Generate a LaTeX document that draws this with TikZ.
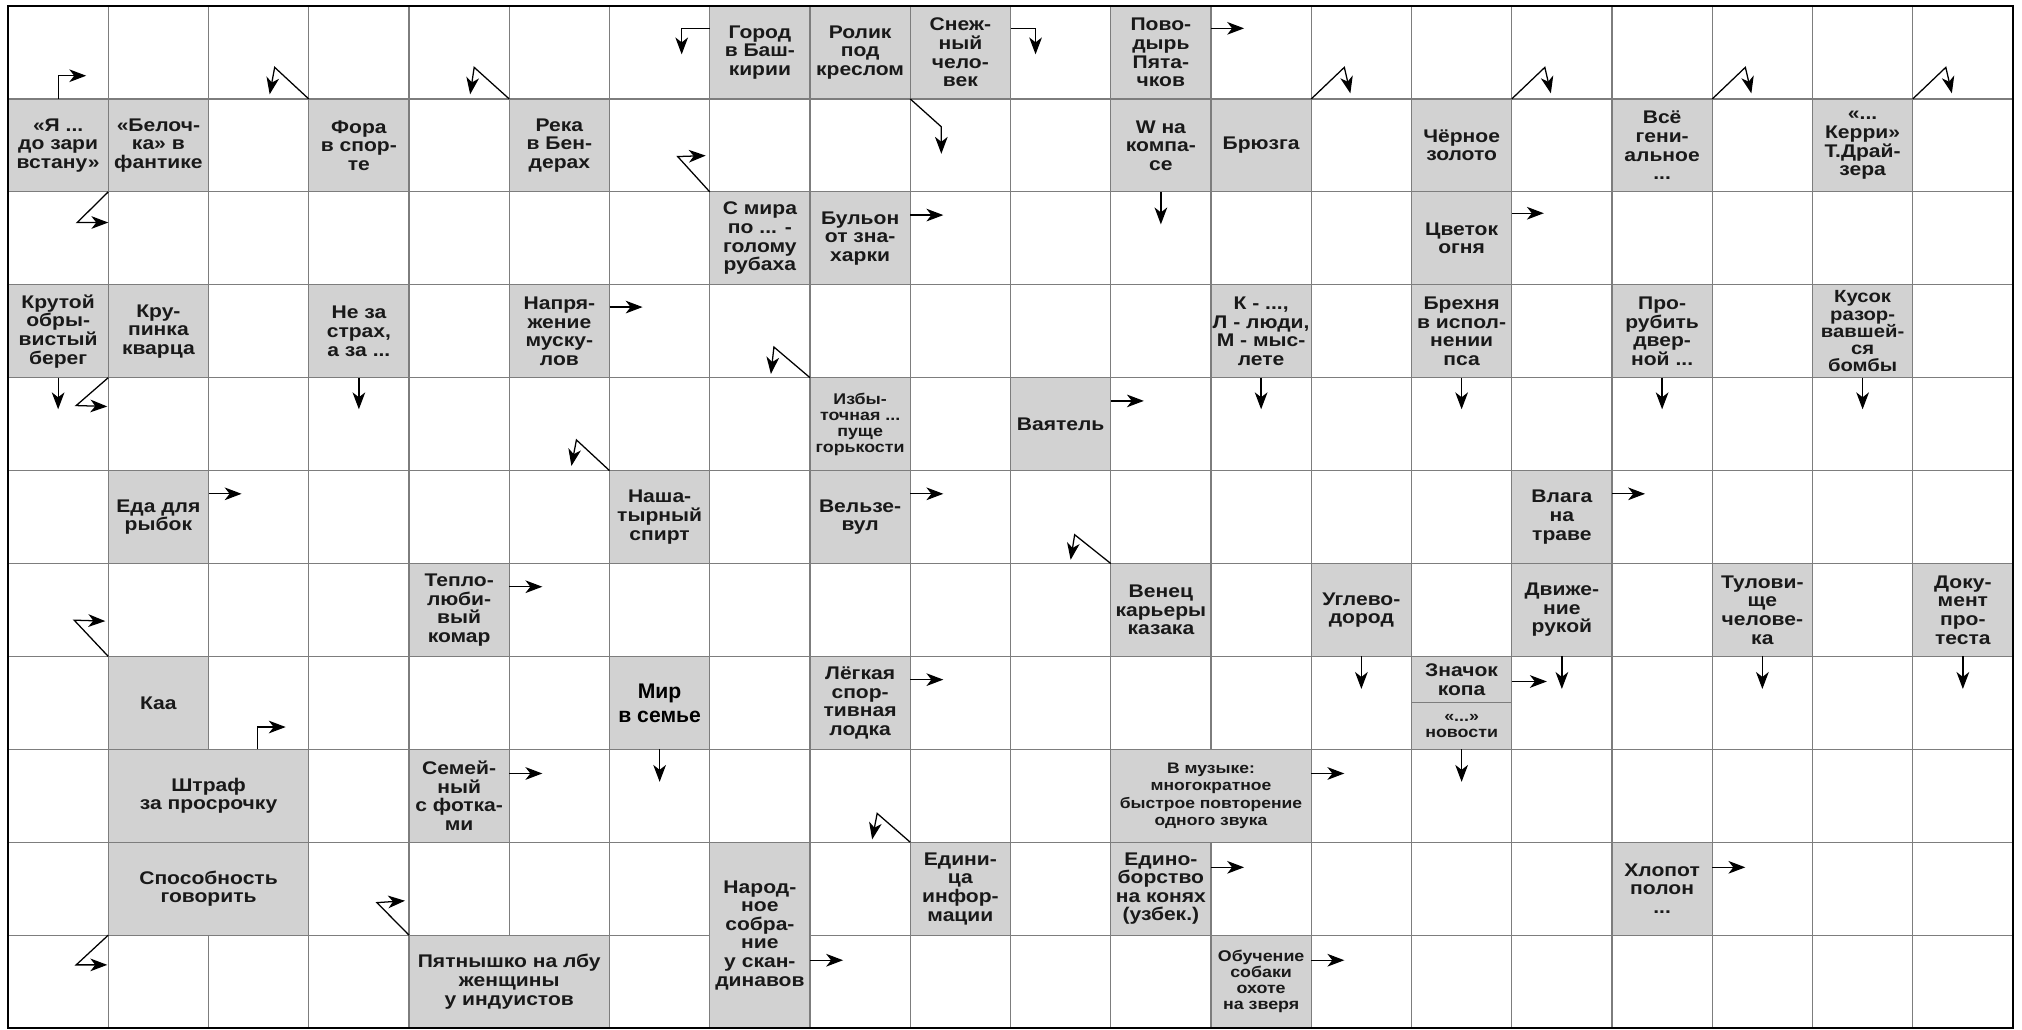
\documentclass[tikz,border=0pt]{standalone}
\usepackage{fontspec}
\setmainfont{Liberation Sans}
\newfontfamily\cluefont[FakeStretch=1.15]{Liberation Sans}
\usetikzlibrary{arrows.meta}

\definecolor{cluegray}{RGB}{210,210,210}
\definecolor{linegray}{RGB}{125,125,125}

\tikzset{
  clue/.style={fill=cluegray, minimum width=2.5cm, minimum height=2.317cm,
    inner sep=0pt, outer sep=0pt, align=center, text=black!90,
    font=\cluefont\bfseries\fontsize{13}{13.2}\selectfont},
  wideclue/.style={clue, minimum width=5cm},
  tallclue/.style={clue, minimum height=4.634cm},
  halfclue/.style={clue, minimum height=1.1585cm},
  smalltext/.style={font=\cluefont\bfseries\fontsize{11}{11.3}\selectfont},
  gridline/.style={draw=linegray, line width=0.8pt},
  pointer/.style={-{Stealth[length=12pt,width=9pt,inset=3.5pt]}, line width=0.9pt},
}

\begin{document}
\begin{tikzpicture}[x=2.5cm, y=-2.317cm]
    \useasboundingbox (-0.08,-0.065) rectangle (20.09,11.02);

    \node[clue] (gorod) at (7.5,0.5) {Город\\в Баш-\\кирии};
    \node[clue] (rolik) at (8.5,0.5) {Ролик\\под\\креслом};
    \node[clue] (snezh) at (9.5,0.5) {Снеж-\\ный\\чело-\\век};
    \node[clue] (povod) at (11.5,0.5) {Пово-\\дырь\\Пята-\\чков};

    \node[clue] (ya) at (0.5,1.5) {«Я ...\\до зари\\встану»};
    \node[clue] (belochka) at (1.5,1.5) {«Белоч-\\ка» в\\фантике};
    \node[clue] (fora) at (3.5,1.5) {Фора\\в спор-\\те};
    \node[clue] (reka) at (5.5,1.5) {Река\\в Бен-\\дерах};
    \node[clue] (kompas) at (11.5,1.5) {W на\\компа-\\се};
    \node[clue] (bruzga) at (12.5,1.5) {Брюзга};
    \node[clue] (neft) at (14.5,1.5) {Чёрное\\золото};
    \node[clue] (genial) at (16.5,1.5) {Всё\\гени-\\альное\\...};
    \node[clue] (kerri) at (18.5,1.5) {«...\\Керри»\\Т.Драй-\\зера};

    \node[clue] (smira) at (7.5,2.5) {С мира\\по ... -\\голому\\рубаха};
    \node[clue] (bulon) at (8.5,2.5) {Бульон\\от зна-\\харки};
    \node[clue] (cvetok) at (14.5,2.5) {Цветок\\огня};

    \node[clue] (bereg) at (0.5,3.5) {Крутой\\обры-\\вистый\\берег};
    \node[clue] (krup) at (1.5,3.5) {Кру-\\пинка\\кварца};
    \node[clue] (strah) at (3.5,3.5) {Не за\\страх,\\а за ...};
    \node[clue] (naprj) at (5.5,3.5) {Напря-\\жение\\муску-\\лов};
    \node[clue] (klm) at (12.5,3.5) {К - ...,\\Л - люди,\\М - мыс-\\лете};
    \node[clue] (brehnya) at (14.5,3.5) {Брехня\\в испол-\\нении\\пса};
    \node[clue] (prorub) at (16.5,3.5) {Про-\\рубить\\двер-\\ной ...};
    \node[clue, font=\cluefont\bfseries\fontsize{12.5}{12.2}\selectfont] (kusok) at (18.5,3.5) {Кусок\\разор-\\вавшей-\\ся\\бомбы};

    \node[clue, smalltext] (izbyt) at (8.5,4.5) {Избы-\\точная ...\\пуще\\горькости};
    \node[clue] (vayatel) at (10.5,4.5) {Ваятель};

    \node[clue] (eda) at (1.5,5.5) {Еда для\\рыбок};
    \node[clue] (nashat) at (6.5,5.5) {Наша-\\тырный\\спирт};
    \node[clue] (velz) at (8.5,5.5) {Вельзе-\\вул};
    \node[clue] (vlaga) at (15.5,5.5) {Влага\\на\\траве};

    \node[clue] (komar) at (4.5,6.5) {Тепло-\\люби-\\вый\\комар};
    \node[clue] (venec) at (11.5,6.5) {Венец\\карьеры\\казака};
    \node[clue] (uglev) at (13.5,6.5) {Углево-\\дород};
    \node[clue] (dvizh) at (15.5,6.5) {Движе-\\ние\\рукой};
    \node[clue] (tulov) at (17.5,6.5) {Тулови-\\ще\\челове-\\ка};
    \node[clue] (dokum) at (19.5,6.5) {Доку-\\мент\\про-\\теста};

    \node[clue] (kaa) at (1.5,7.5) {Каа};
    \node[clue, text=black, font=\bfseries\fontsize{15}{17}\selectfont] (mir) at (6.5,7.5) {Мир\\в семье};
    \node[clue] (lodka) at (8.5,7.5) {Лёгкая\\спор-\\тивная\\лодка};
    \node[halfclue] (znachok) at (14.5,7.25) {Значок\\копа};
    \node[halfclue, smalltext] (novosti) at (14.5,7.75) {«...»\\новости};

    \node[wideclue] (shtraf) at (2,8.5) {Штраф\\за просрочку};
    \node[clue] (semein) at (4.5,8.5) {Семей-\\ный\\с фотка-\\ми};
    \node[wideclue, font=\cluefont\bfseries\fontsize{10.8}{12.5}\selectfont] (muzyka) at (12,8.5) {В музыке:\\многократное\\быстрое повторение\\одного звука};

    \node[wideclue] (sposob) at (2,9.5) {Способность\\говорить};
    \node[tallclue] (narod) at (7.5,10) {Народ-\\ное\\собра-\\ние\\у скан-\\динавов};
    \node[clue] (edinica) at (9.5,9.5) {Едини-\\ца\\инфор-\\мации};
    \node[clue] (edinob) at (11.5,9.5) {Едино-\\борство\\на конях\\(узбек.)};
    \node[clue] (hlopot) at (16.5,9.5) {Хлопот\\полон\\...};

    \node[wideclue] (pyatno) at (5,10.5) {Пятнышко на лбу\\женщины\\у индуистов};
    \node[clue, smalltext] (obuch) at (12.5,10.5) {Обучение\\собаки\\охоте\\на зверя};

    \foreach \x in {1,3,4,6,7,8,9,10,11,13,14,15,16,17,18,19}
        \draw[gridline] (\x,0) -- (\x,11);
    \draw[gridline] (2,0) -- (2,8) (2,10) -- (2,11);
    \draw[gridline] (5,0) -- (5,10);
    \draw[gridline] (12,0) -- (12,8) (12,9) -- (12,11);
    \foreach \y in {1,...,9}
        \draw[gridline] (0,\y) -- (20,\y);
    \draw[gridline] (0,10) -- (7,10) (8,10) -- (20,10);
    \draw[gridline] (znachok.south west) -- (znachok.south east);
    \draw[line width=2pt] (0,0) rectangle (20,11);

    \coordinate (povod-t) at (12.33,0.24);
    \coordinate (bulon-t) at (9.33,2.25);
    \coordinate (cvetok-t) at (15.32,2.23);
    \coordinate (naprj-t) at (6.33,3.24);
    \coordinate (vayatel-t) at (11.33,4.25);
    \coordinate (eda-t) at (2.33,5.25);
    \coordinate (velz-t) at (9.33,5.25);
    \coordinate (vlaga-t) at (16.33,5.25);
    \coordinate (komar-t) at (5.33,6.25);
    \coordinate (lodka-t) at (9.33,7.25);
    \coordinate (znachok-t) at (15.35,7.27);
    \coordinate (semein-t) at (5.33,8.26);
    \coordinate (muzyka-t) at (13.33,8.26);
    \coordinate (edinob-t) at (12.33,9.27);
    \coordinate (hlopot-t) at (17.33,9.27);
    \coordinate (narod-t) at (8.33,10.27);
    \coordinate (obuch-t) at (13.33,10.27);
    \foreach \n in {povod,bulon,cvetok,naprj,vayatel,eda,velz,vlaga,komar,lodka,znachok,semein,muzyka,edinob,hlopot,narod,obuch}
        \draw[pointer] (\n.east |- \n-t) -- (\n-t);

    \coordinate (kompas-t) at (11.5,2.35);
    \coordinate (bereg-t) at (0.5,4.34);
    \coordinate (strah-t) at (3.5,4.34);
    \coordinate (klm-t) at (12.5,4.34);
    \coordinate (brehnya-t) at (14.5,4.34);
    \coordinate (prorub-t) at (16.5,4.34);
    \coordinate (kusok-t) at (18.5,4.34);
    \coordinate (uglev-t) at (13.5,7.35);
    \coordinate (dvizh-t) at (15.5,7.35);
    \coordinate (tulov-t) at (17.5,7.35);
    \coordinate (dokum-t) at (19.5,7.35);
    \coordinate (mir-t) at (6.5,8.35);
    \coordinate (novosti-t) at (14.5,8.35);
    \foreach \n in {kompas,bereg,strah,klm,brehnya,prorub,kusok,uglev,dvizh,tulov,dokum,mir,novosti}
        \draw[pointer] (\n.south) -- (\n-t);

    \coordinate (ya-t) at (0.78,0.75);
    \draw[pointer] (ya.north) |- (ya-t);
    \coordinate (shtraf-k) at (2.49,7.76);
    \coordinate (shtraf-t) at (2.77,7.76);
    \draw[pointer] (shtraf.north -| shtraf-k) |- (shtraf-t);
    \coordinate (gorod-k) at (6.72,0.24);
    \coordinate (gorod-t) at (6.72,0.52);
    \draw[pointer] (gorod.west |- gorod-k) -| (gorod-t);
    \coordinate (snezh-k) at (10.25,0.24);
    \coordinate (snezh-t) at (10.25,0.52);
    \draw[pointer] (snezh.east |- snezh-k) -| (snezh-t);
    \coordinate (rolik-k) at (9.31,1.3);
    \coordinate (rolik-t) at (9.31,1.59);
    \draw[pointer] (rolik.south east) -- (rolik-k) -- (rolik-t);

    \coordinate (fora-k) at (2.66,0.66);
    \coordinate (fora-t) at (2.61,0.95);
    \coordinate (reka-k) at (4.65,0.66);
    \coordinate (reka-t) at (4.61,0.95);
    \coordinate (izbyt-k) at (7.64,3.67);
    \coordinate (izbyt-t) at (7.61,3.96);
    \coordinate (nashat-k) at (5.67,4.67);
    \coordinate (nashat-t) at (5.62,4.95);
    \coordinate (venec-k) at (10.64,5.69);
    \coordinate (venec-t) at (10.6,5.96);
    \coordinate (edinica-k) at (8.67,8.69);
    \coordinate (edinica-t) at (8.62,8.97);
    \coordinate (smira-k) at (6.68,1.62);
    \coordinate (smira-t) at (6.96,1.61);
    \coordinate (kaa-k) at (0.66,6.61);
    \coordinate (kaa-t) at (0.97,6.62);
    \coordinate (pyatno-k) at (3.68,9.65);
    \coordinate (pyatno-t) at (3.96,9.63);
    \foreach \n in {fora,reka,izbyt,nashat,venec,edinica,smira,kaa,pyatno}
        \draw[pointer] (\n.north west) -- (\n-k) -- (\n-t);

    \coordinate (belochka-k) at (0.69,2.33);
    \coordinate (belochka-t) at (1.0,2.33);
    \coordinate (krup-k) at (0.68,4.3);
    \coordinate (krup-t) at (0.99,4.31);
    \coordinate (sposob-k) at (0.68,10.32);
    \coordinate (sposob-t) at (0.99,10.32);
    \foreach \n in {belochka,krup,sposob}
        \draw[pointer] (\n.south west) -- (\n-k) -- (\n-t);

    \coordinate (bruzga-k) at (13.33,0.66);
    \coordinate (bruzga-t) at (13.39,0.94);
    \coordinate (neft-k) at (15.33,0.66);
    \coordinate (neft-t) at (15.39,0.94);
    \coordinate (genial-k) at (17.33,0.66);
    \coordinate (genial-t) at (17.39,0.94);
    \coordinate (kerri-k) at (19.33,0.66);
    \coordinate (kerri-t) at (19.39,0.94);
    \foreach \n in {bruzga,neft,genial,kerri}
        \draw[pointer] (\n.north east) -- (\n-k) -- (\n-t);
\end{tikzpicture}
\end{document}
